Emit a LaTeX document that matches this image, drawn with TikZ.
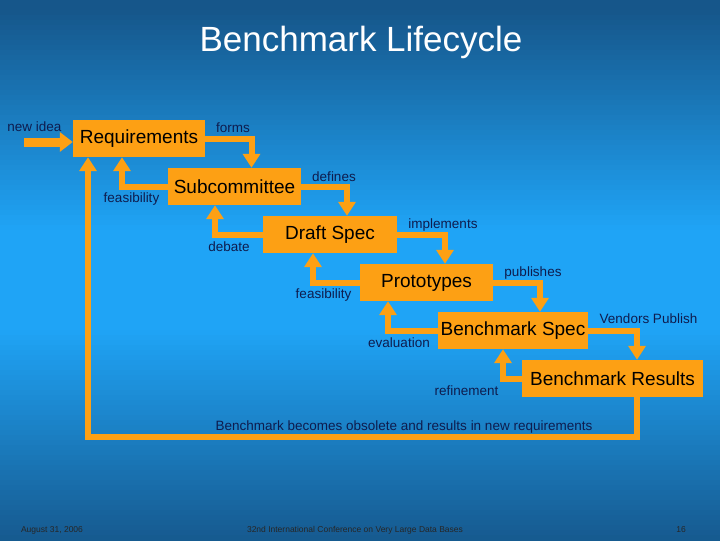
\documentclass[tikz,border=0pt]{standalone}
\usepackage{fontspec}
\setmainfont{Liberation Sans}
\usetikzlibrary{arrows.meta,positioning}
\definecolor{boxorange}{RGB}{253,160,20}
\definecolor{bgtop}{RGB}{22,86,138}
\definecolor{bgmid}{RGB}{31,164,246}
\definecolor{lbltext}{RGB}{14,28,78}
\tikzset{stage/.style={rectangle, fill=boxorange, minimum height=37pt, inner sep=2pt, font=\fontsize{19}{21}\selectfont, text=black},
  flow/.style={draw=boxorange, line width=6pt, -{Triangle[width=17pt,length=14pt]}},
  lbl/.style={text=lbltext, font=\fontsize{13.5}{15}\selectfont, inner sep=0pt},
  foot/.style={text=black!85, font=\fontsize{8.5}{9}\selectfont, inner sep=0pt}}

\begin{document}
\begin{tikzpicture}[x=1pt,y=-1pt]
    % background gradient, light band in the middle
    \foreach \i in {0,...,107} {
        \pgfmathsetmacro\w{100-min(100,max(0,abs(\i*5+2.5-280)-50)/2.2)}
        \fill[bgmid!\w!bgtop] (0,\i*5) rectangle (720,\i*5+5.6);
    }
    \useasboundingbox (0,0) rectangle (720,540);
    \node[text=white, font=\fontsize{35}{40}\selectfont] (title) at (361,42) {Benchmark Lifecycle};

    % stages
    \node[stage, minimum width=132pt] (req) at (139,138.5) {Requirements};
    \node[stage, minimum width=133pt] (subc) at (234.5,186.5) {Subcommittee};
    \node[stage, minimum width=134pt] (draft) at (330,234.5) {Draft Spec};
    \node[stage, minimum width=133pt] (proto) at (426.5,282.5) {Prototypes};
    \node[stage, minimum width=150pt] (bspec) at (513,330.5) {Benchmark Spec};
    \node[stage, minimum width=181pt] (bres) at (612.5,378.5) {Benchmark Results};

    % forward steps
    \coordinate (idea) at (24,142);
    \draw[flow, line width=9pt, -{Triangle[width=19pt,length=13pt]}] (idea) -- (req.west |- idea);
    \draw[flow] (req.east) -| ([xshift=17pt]subc.north);
    \draw[flow] (subc.east) -| ([xshift=17pt]draft.north);
    \draw[flow] (draft.east) -| ([xshift=18.5pt]proto.north);
    \draw[flow] (proto.east) -| ([xshift=27pt]bspec.north);
    \draw[flow] (bspec.east) -| ([xshift=24.5pt]bres.north);

    % feedback steps
    \draw[flow] (subc.west) -| ([xshift=-17pt]req.south);
    \draw[flow] (draft.west) -| ([xshift=-19.5pt]subc.south);
    \draw[flow] (proto.west) -| ([xshift=-17pt]draft.south);
    \draw[flow] (bspec.west) -| ([xshift=-38.5pt]proto.south);
    \draw[flow] (bres.west) -| ([xshift=-10pt]bspec.south);
    \coordinate (loop) at (88,437);
    \draw[flow] ([xshift=24pt]bres.south) |- (loop) -- (loop |- req.south);

    % labels
    \node[lbl] (l0) at (34.5,127) {new idea};
    \node[lbl] (l1) at (233,128) {forms};
    \node[lbl] (l2) at (131.5,199) {feasibility};
    \node[lbl] (l3) at (334,177) {defines};
    \node[lbl] (l4) at (229,247) {debate};
    \node[lbl] (l5) at (443,225) {implements};
    \node[lbl] (l6) at (323.5,295) {feasibility};
    \node[lbl] (l7) at (533,273) {publishes};
    \node[lbl] (l8) at (399,343) {evaluation};
    \node[lbl] (l9) at (648.5,319) {Vendors Publish};
    \node[lbl] (l10) at (466.5,391) {refinement};
    \node[lbl] (l11) at (404,427) {Benchmark becomes obsolete and results in new requirements};

    % footer
    \node[foot] (date) at (52,530) {August 31, 2006};
    \node[foot] (conf) at (355,530) {32nd International Conference on Very Large Data Bases};
    \node[foot] (page) at (681,530) {16};
\end{tikzpicture}
\end{document}
